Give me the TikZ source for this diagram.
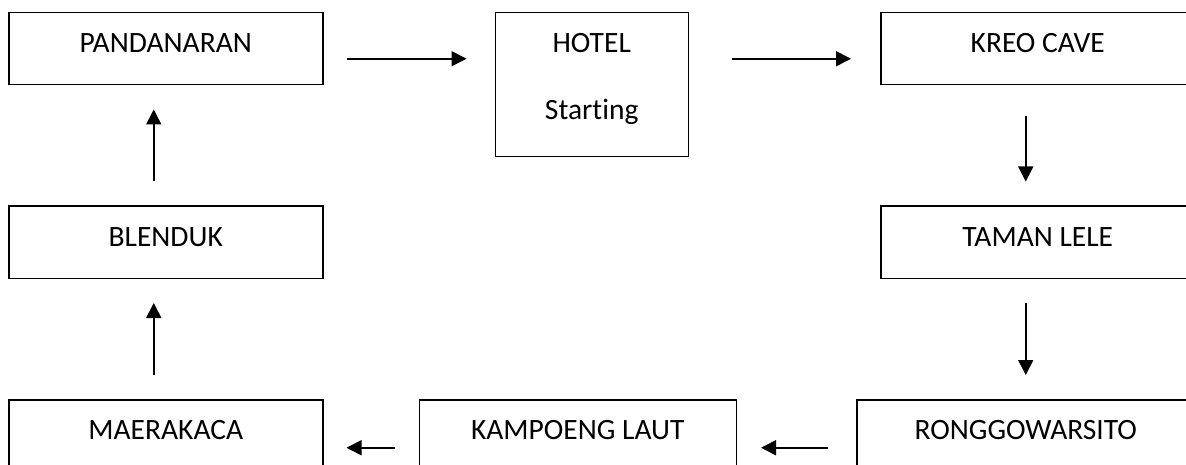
\documentclass[tikz,border=0pt]{standalone}
\usepackage{fontspec}
\setmainfont{Carlito}[Ligatures=NoCommon]
\usetikzlibrary{arrows.meta, positioning}

\begin{document}
\begin{tikzpicture}[
    node distance=120pt,
    place/.style={rectangle, draw, line width=1.5pt, inner sep=0pt, minimum width=314pt, text height=40pt, text depth=32pt, font=\fontsize{29.5pt}{34pt}\selectfont},
    arrow/.style={-{Triangle[length=15pt, width=15pt]}, line width=1.6pt}
]
\clip (0,0) rectangle (1186pt,-465pt);

\node[place, anchor=north west] (pand) at (8pt,-12pt) {PANDANARAN};
\node[place, minimum width=193pt, text depth=104pt, right=171pt of pand.north east, anchor=north west] (hotel) {\begin{tabular}[t]{@{}c@{}}HOTEL\\[33pt]Starting\end{tabular}};
\node[place, right=191pt of hotel.north east, anchor=north west] (kreo) {KREO CAVE};
\node[place, below=of kreo] (taman) {TAMAN LELE};
\node[place, minimum width=338pt, below=of taman.south east, anchor=north east] (ronggo) {RONGGOWARSITO};

\node[place, below=of pand] (blenduk) {BLENDUK};
\node[place, below=of blenduk] (maer) {MAERAKACA};
\node[place, minimum width=317pt, right=95pt of maer.north east, anchor=north west] (kamp) {KAMPOENG LAUT};

\draw[arrow, shorten <=23pt, shorten >=28pt] ([yshift=-10pt]pand.east) -- ([yshift=26pt]hotel.west);
\draw[arrow, shorten <=43pt, shorten >=29pt] ([yshift=26pt]hotel.east) -- ([yshift=-10pt]kreo.west);
\draw[arrow, shorten <=31pt, shorten >=24pt] ([xshift=-12pt]kreo.south) -- ([xshift=-12pt]taman.north);
\draw[arrow, shorten <=24pt, shorten >=24pt] ([xshift=-12pt]taman.south) -- (ronggo.north);
\draw[arrow, shorten <=28pt, shorten >=24pt] ([yshift=-12pt]ronggo.west) -- ([yshift=-12pt]kamp.east);
\draw[arrow, shorten <=24pt, shorten >=23pt] ([yshift=-12pt]kamp.west) -- ([yshift=-12pt]maer.east);
\draw[arrow, shorten <=24pt, shorten >=24pt] ([xshift=-12pt]maer.north) -- ([xshift=-12pt]blenduk.south);
\draw[arrow, shorten <=24pt, shorten >=24pt] ([xshift=-12pt]blenduk.north) -- ([xshift=-12pt]pand.south);

\end{tikzpicture}
\end{document}
